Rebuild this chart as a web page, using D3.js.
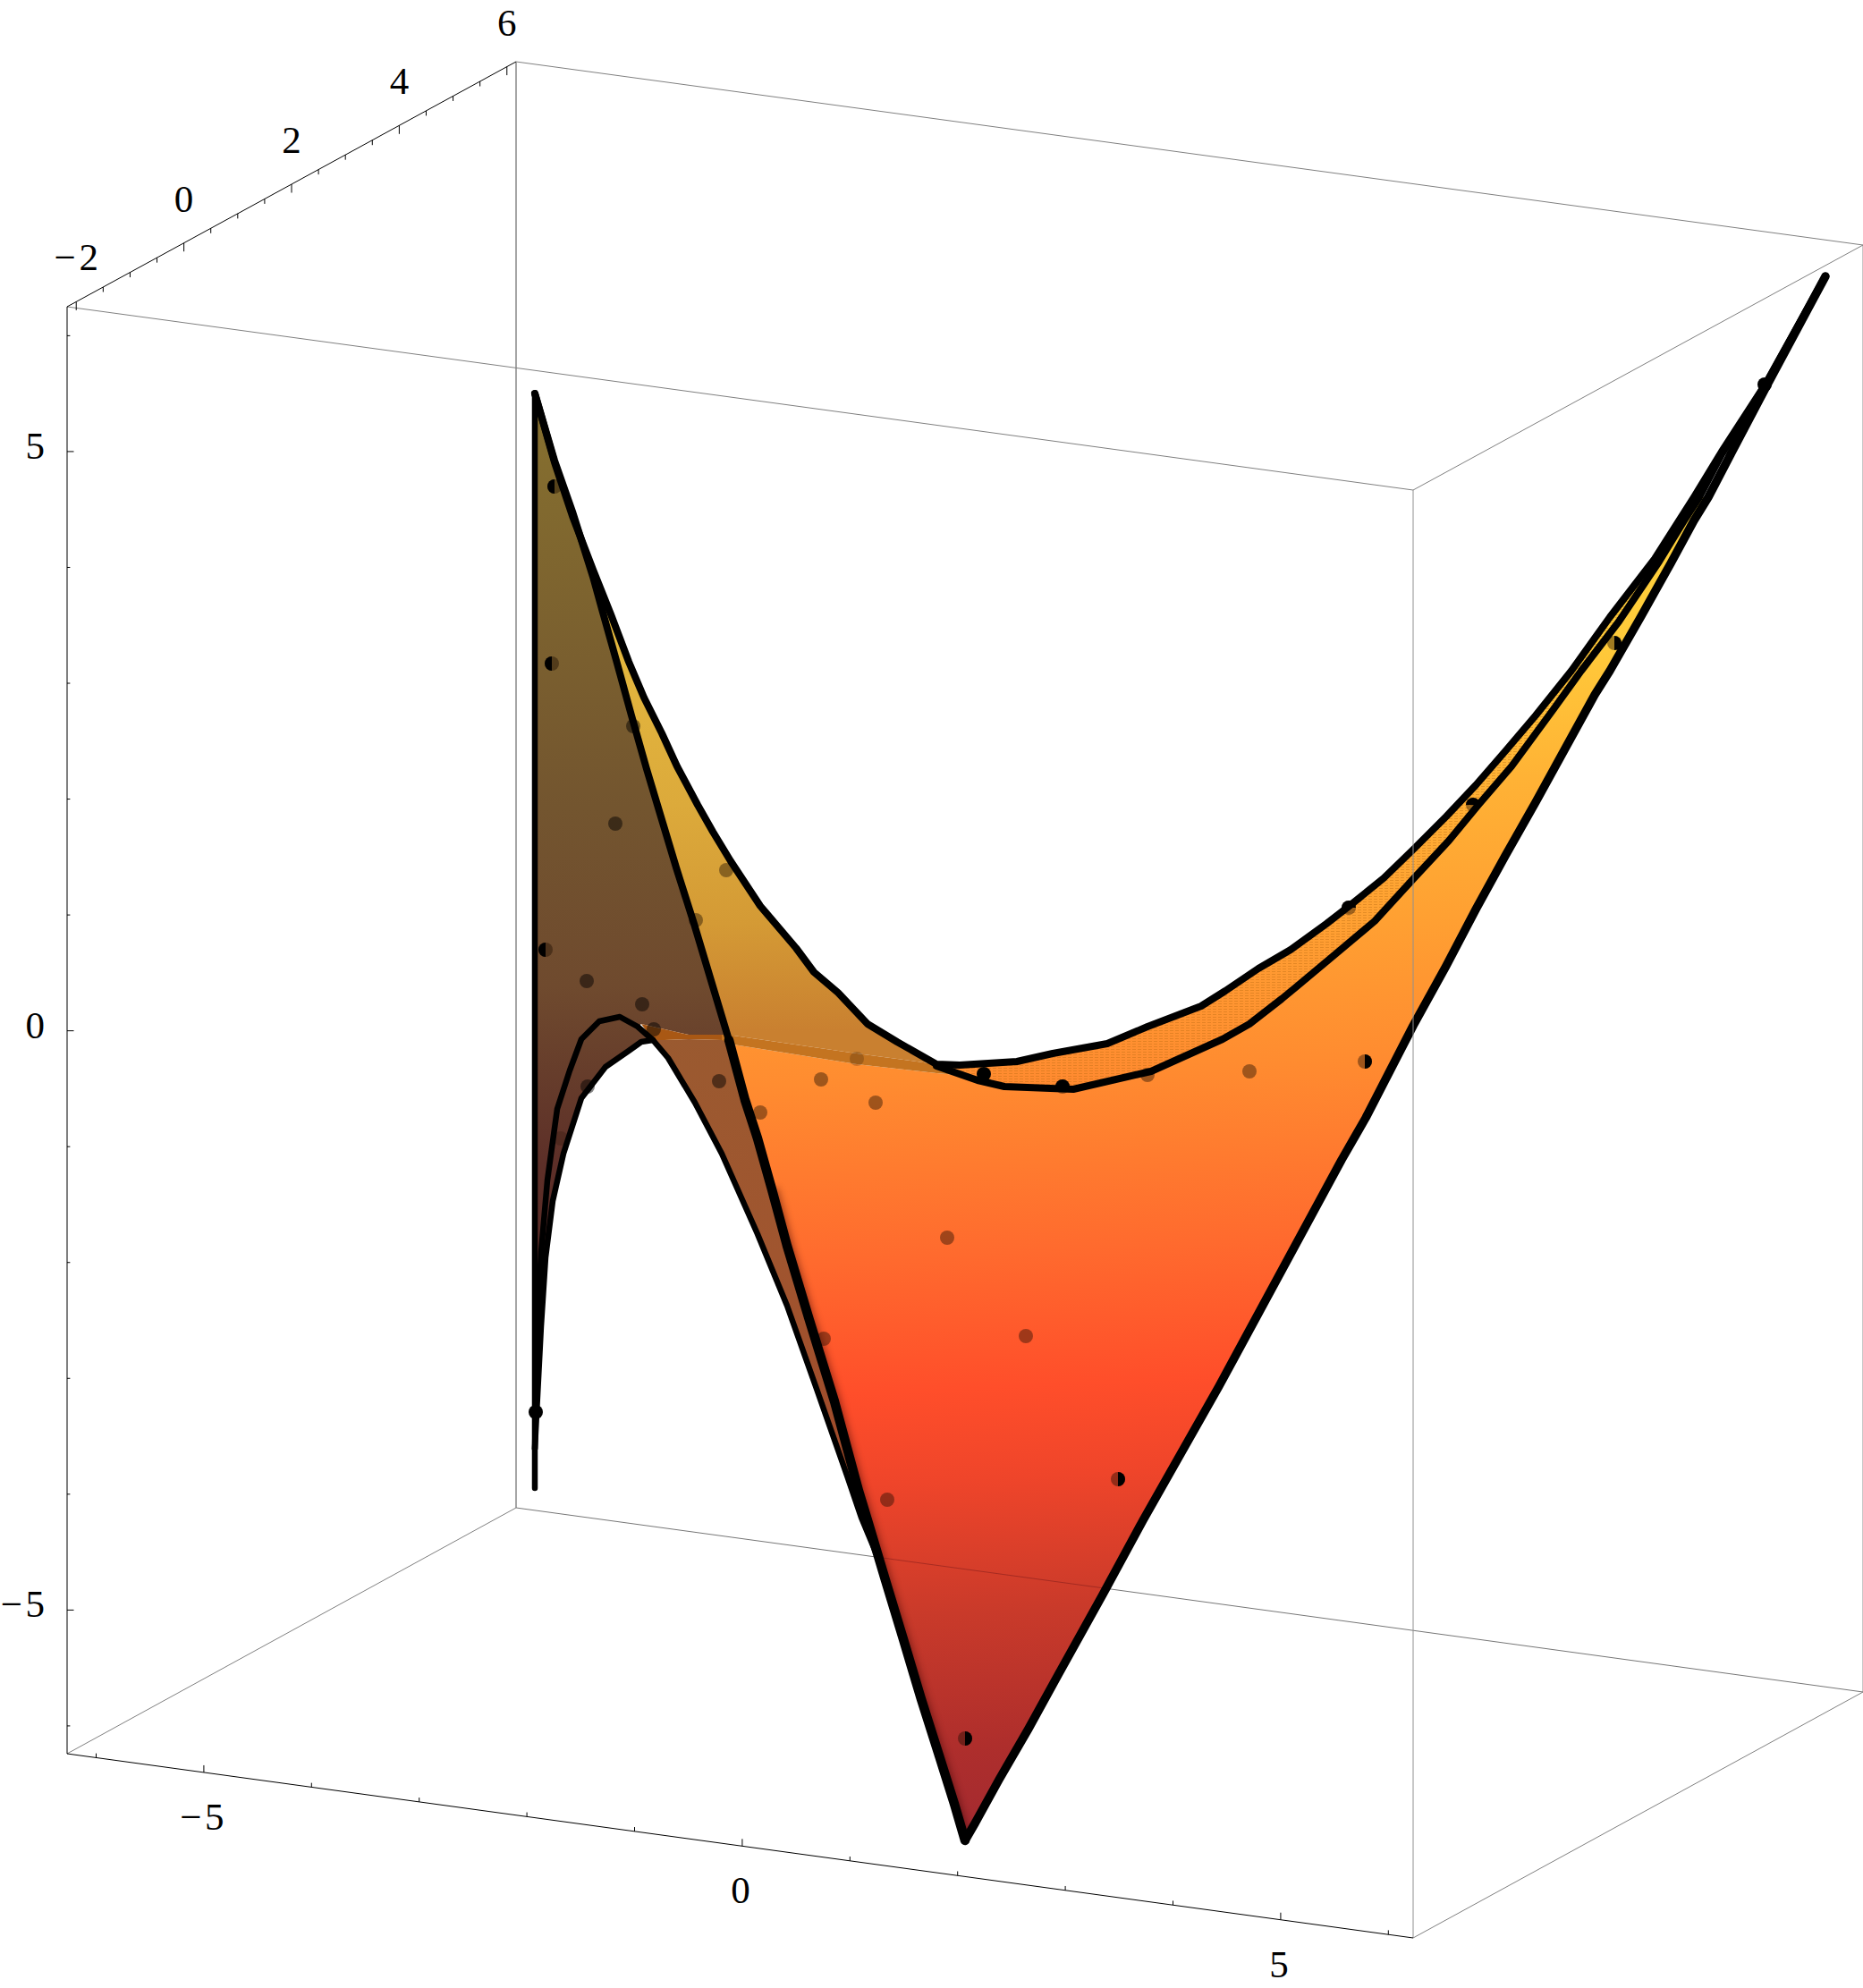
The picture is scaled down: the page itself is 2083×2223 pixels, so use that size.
<!DOCTYPE html>
<html><head><meta charset="utf-8">
<script src="https://d3js.org/d3.v7.min.js"></script>
<style>html,body{margin:0;padding:0;background:#fff}svg{display:block}text{font-family:"Liberation Serif",serif;font-size:43px;fill:#000}</style>
</head><body><svg id="c" width="2083" height="2223"></svg>
<script>
const boxTop=[[-7.55,8.10],[-2.53,10.84],[12.53,8.79],[7.50,6.05]];
const boxBottom=[[-7.55,-8.08],[-2.53,-5.33],[12.53,-7.39],[7.50,-10.14]];

const edgeUpper=[[-2.32,7.13],[-2.10,6.36],[-1.90,5.76],[-1.67,5.16],[-1.47,4.66],[-1.27,4.13],[-1.10,3.73],[-0.90,3.33],[-0.73,2.96],[-0.50,2.53],[-0.33,2.23],[-0.13,1.90],[0.20,1.40],[0.60,0.93],[0.80,0.66],[1.07,0.43],[1.40,0.08],[1.73,-0.12],[2.17,-0.37],[2.43,-0.38],[3.07,-0.34],[3.47,-0.25],[4.08,-0.14],[4.53,0.05],[5.13,0.28],[5.40,0.45],[5.77,0.70],[6.13,0.91],[6.53,1.20],[6.80,1.41],[7.17,1.71],[7.50,2.03],[7.87,2.40],[8.20,2.75],[8.53,3.13],[8.87,3.53],[9.27,4.03],[9.70,4.63],[10.20,5.28],[10.64,5.97],[10.95,6.48],[11.45,7.25],[12.11,8.44]];
const edgeLower=[[2.17,-0.39],[2.63,-0.55],[2.93,-0.62],[3.70,-0.65],[4.57,-0.45],[5.37,-0.09],[5.67,0.08],[6.03,0.36],[6.20,0.50],[6.63,0.86],[7.07,1.23],[7.50,1.70],[7.90,2.13],[8.23,2.53],[8.60,2.96],[9.07,3.60],[9.38,4.03],[9.80,4.58],[10.25,5.25],[10.55,5.74],[10.70,5.97],[10.95,6.45],[11.45,7.25],[12.11,8.44]];
const edgeRight=[[2.49,-9.05],[2.60,-8.86],[2.87,-8.37],[3.20,-7.80],[3.53,-7.20],[4.03,-6.30],[4.48,-5.47],[5.33,-3.97],[6.70,-1.44],[6.97,-0.97],[7.50,0.06],[7.87,0.73],[8.20,1.36],[8.53,1.96],[8.87,2.56],[9.20,3.16],[9.53,3.76],[9.70,4.03],[10.05,4.64],[10.38,5.23],[10.64,5.71],[10.80,5.97],[11.05,6.45],[11.45,7.21],[12.11,8.44]];
const edgeFoldTop=[[-2.32,7.13],[-2.10,6.38],[-1.90,5.81],[-1.67,5.08],[-1.565,4.70],[-1.405,4.13],[-1.24,3.53],[-1.07,2.93],[-0.89,2.33],[-0.74,1.83],[-0.54,1.20],[-0.30,0.40],[-0.15,-0.10]];
const edgeFoldBottom=[[-0.15,-0.10],[0.03,-0.77],[0.17,-1.20],[0.33,-1.77],[0.50,-2.40],[0.74,-3.20],[1.03,-4.14],[1.30,-5.14],[1.40,-5.47],[1.60,-6.14],[1.80,-6.80],[2.00,-7.47],[2.20,-8.10],[2.37,-8.64],[2.49,-9.05]];
const edgeBack=[[-1.00,-0.10],[-0.83,-0.30],[-0.53,-0.80],[-0.23,-1.37],[0.17,-2.27],[0.50,-3.07],[0.83,-4.00],[1.17,-4.97],[1.33,-5.44],[1.53,-5.92]];
const arcUpper=[[-2.32,-4.67],[-2.29,-3.27],[-2.25,-2.47],[-2.18,-1.67],[-2.07,-0.87],[-1.93,-0.44],[-1.80,-0.09],[-1.60,0.11],[-1.37,0.16],[-1.17,0.05],[-1.00,-0.10]];
const arcLower=[[-2.32,-4.67],[-2.25,-3.30],[-2.20,-2.53],[-2.12,-1.90],[-2.00,-1.37],[-1.80,-0.75],[-1.53,-0.40],[-1.27,-0.22],[-1.13,-0.12],[-1.00,-0.10]];
const edgeLeft=[[-2.32,7.13],[-2.32,-5.11]];
const seamTop=[[-1.13,0.08],[-1.00,0.05],[-0.60,-0.04],[-0.23,-0.04],[-0.10,-0.05],[1.28,-0.25],[2.17,-0.37]];
const seamBottom=[[-1.00,-0.10],[-0.87,-0.10],[-0.60,-0.09],[-0.23,-0.10],[-0.10,-0.15],[1.28,-0.37],[2.17,-0.47],[2.40,-0.49]];

const controlPoints=[[-2.10,6.09,"L"],[-2.13,4.11,"L"],[-1.22,3.41,"D"],[-1.42,2.32,"D"],[-0.18,1.80,"N"],[-0.52,1.24,"N"],[-2.20,0.91,"L"],[-1.74,0.56,"D"],[-1.12,0.30,"D"],[-0.99,0.02,"D"],[-0.26,-0.56,"D"],[0.88,-0.54,"N"],[1.49,-0.80,"N"],[0.20,-0.91,"N"],[1.28,-0.31,"F"],[-1.73,-0.62,"D"],[-2.03,-1.20,"F"],[2.29,-2.31,"N"],[3.17,-3.41,"N"],[5.67,-0.45,"N"],[4.53,-0.49,"N"],[3.58,-0.62,"T"],[2.70,-0.48,"K"],[0.91,-3.44,"N"],[1.62,-5.24,"N"],[4.20,-5.01,"R"],[2.49,-7.91,"R"],[6.96,-0.34,"R"],[8.17,2.53,"T"],[6.78,1.38,"T"],[9.75,4.34,"R"],[11.43,7.23,"K"],[-2.31,-4.26,"K"]];

const xTicks=d3.range(-6,7), xLabels=[-5,0,5];
const yTicks=d3.range(-2,6.5,0.5), yLabels=[-2,0,2,4,6];
const zTicks=d3.range(-6,7), zLabels=[-5,0,5];

const frontV=[5.53,4.03,2.53,1.03,-0.47,-2.47,-3.97,-4.97,-6.47,-7.97,-8.97];
const frontC=["#ffd23c","#ffcb3a","#ffb235","#ffa032","#ff8c30","#ff6a2e","#ff4e2a","#ef452a","#c93a2a","#ae2e2c","#a32a30"];
const goldV=[5.5,2.53,1.2,0];
const goldC=["#e8c040","#dcaa3b","#d49a35","#c98030"];
const brownV=[7,2.5,0.5,-1.5,-4.5];
const brownC=["#86702f","#73552f","#6f4a2e","#5d2f28","#5a2a2a"];
const lowerBrownV=[0,-2.5,-5];
const lowerBrownC=["#9a5a30","#a0552f","#a04a2a"];

const X=d3.scaleLinear().domain([-8.30,12.53]).range([0,2083]);
const Y=d3.scaleLinear().domain([11.53,-10.70]).range([0,2223]);
const P=p=>[X(p[0]),Y(p[1])];
const line=d3.line().x(d=>X(d[0])).y(d=>Y(d[1]));
const area=pts=>line(pts)+"Z";
const svg=d3.select("#c");
const defs=svg.append("defs");

function grad(id,vs,cs,tilt){
  const y0=Y(vs[0]),y1=Y(vs[vs.length-1]);
  const g=defs.append("linearGradient").attr("id",id).attr("gradientUnits","userSpaceOnUse")
    .attr("x1",1100).attr("x2",1100+(y1-y0)*tilt).attr("y1",y0).attr("y2",y1);
  const o=d3.scaleLinear().domain([y0,y1]).range([0,1]);
  vs.forEach((v,i)=>g.append("stop").attr("offset",o(Y(v))).attr("stop-color",cs[i]));
}
grad("front",frontV,frontC,.05);grad("gold",goldV,goldC,0);grad("brown",brownV,brownC,0);grad("lowBrown",lowerBrownV,lowerBrownC,0);
defs.append("filter").attr("id","soft").attr("x","-20%").attr("y","-20%").attr("width","140%").attr("height","140%")
  .append("feGaussianBlur").attr("stdDeviation",4);
const pat=defs.append("pattern").attr("id","dither").attr("patternUnits","userSpaceOnUse").attr("width",6).attr("height",3);
pat.append("rect").attr("width",4).attr("height",1).attr("fill","#b86a10").attr("opacity",.38);

// box edges behind the surface
const boxLine=(a,b,col,w)=>svg.append("line").attr("x1",X(a[0])).attr("y1",Y(a[1])).attr("x2",X(b[0])).attr("y2",Y(b[1])).attr("stroke",col).attr("stroke-width",w);
boxLine(boxTop[1],boxTop[2],"#808080",1);
boxLine(boxTop[2],boxBottom[2],"#909090",1);
boxLine(boxTop[1],boxBottom[1],"#808080",1.4);
boxLine(boxBottom[1],boxBottom[2],"#777",1);
boxLine(boxBottom[1],boxBottom[0],"#808080",1);

// surface pieces
const gSurf=svg.append("g");
gSurf.append("path").attr("d",area([...edgeUpper.slice(0,19),...seamTop.slice(4).reverse(),...edgeFoldTop.slice().reverse()])).attr("fill","url(#gold)");
const frontPoly=[...edgeFoldBottom,...edgeRight.slice(1,22),...edgeLower.slice(0,21).reverse(),...seamBottom.slice(4).reverse()];
gSurf.append("path").attr("d",area(frontPoly)).attr("fill","url(#front)");
const bandPoly=[...edgeUpper.slice(18,40),...edgeLower.slice(0,21).reverse()];
gSurf.append("path").attr("d",area(bandPoly)).attr("fill","url(#front)");
gSurf.append("path").attr("d",area(bandPoly)).attr("fill","url(#dither)");
gSurf.append("path").attr("d",area([...edgeFoldTop,...seamTop.slice(0,4).reverse(),...arcUpper.slice(0,10).reverse()])).attr("fill","url(#brown)");
gSurf.append("path").attr("d",area([...edgeBack,...edgeFoldBottom.slice(0,10).reverse(),...seamBottom.slice(0,4).reverse()])).attr("fill","url(#lowBrown)");
gSurf.append("path").attr("d",area([...arcUpper,...arcLower.slice().reverse()])).attr("fill","url(#brown)");

// soft shade along the fold on the front sheet
defs.append("clipPath").attr("id","frontClip").append("path").attr("d",area(frontPoly));
svg.append("g").attr("clip-path","url(#frontClip)").append("path").attr("d",line(edgeFoldBottom.slice(3))).attr("fill","none").attr("stroke","#300").attr("stroke-width",13).attr("opacity",.5).attr("filter","url(#soft)");

// seam band
const bandCol=["#a95814","#c47420"];
svg.append("path").attr("d",area([...seamTop.slice(0,4),...seamBottom.slice(0,4).reverse()])).attr("fill",bandCol[0]);
svg.append("path").attr("d",area([...seamTop.slice(3),...seamBottom.slice(3).reverse()])).attr("fill",bandCol[1]);

// back edge seen through the sheet
const backClip=svg.append("g").attr("clip-path","url(#frontClip)");
backClip.append("line").attr("x1",X(boxBottom[1][0])).attr("y1",Y(boxBottom[1][1])).attr("x2",X(boxBottom[2][0])).attr("y2",Y(boxBottom[2][1])).attr("stroke","#7a1a1a").attr("stroke-width",1).attr("opacity",.5);

// control points
const dotR=8;
const alpha={N:.42,L:.42,R:.42,T:.42,D:.48,F:.22,K:1};
const half=d3.arc().innerRadius(0).outerRadius(dotR);
const halfAngles={L:[Math.PI,2*Math.PI],R:[0,Math.PI],T:[-Math.PI/2,Math.PI/2]};
const gDots=svg.append("g");
gDots.selectAll("circle").data(controlPoints).join("circle")
  .attr("cx",d=>X(d[0])).attr("cy",d=>Y(d[1])).attr("r",dotR)
  .attr("fill",d=>d[2]==="K"?"#000":d[2]==="D"?"#000":"#1a0c00").attr("opacity",d=>alpha[d[2]]);
gDots.selectAll("path").data(controlPoints.filter(d=>halfAngles[d[2]])).join("path")
  .attr("transform",d=>`translate(${X(d[0])},${Y(d[1])})`)
  .attr("d",d=>half({startAngle:halfAngles[d[2]][0],endAngle:halfAngles[d[2]][1]})).attr("fill","#000");

// outline curves, thicker where the surface comes nearer the eye
const curves=[[edgeBack,6.5],[arcLower,6.5],[arcUpper,6.5],[edgeLeft,6.5],[edgeFoldTop,8],[edgeFoldBottom,10.5],[edgeLower,8],[edgeUpper,8],[edgeRight,9.5]];
svg.append("g").selectAll("path").data(curves).join("path").attr("d",d=>line(d[0])).attr("fill","none")
  .attr("stroke","#000").attr("stroke-width",d=>d[1]).attr("stroke-linejoin","round").attr("stroke-linecap","round");

// box edges in front
boxLine(boxTop[0],boxTop[3],"#808080",1);
boxLine(boxTop[3],boxTop[2],"#808080",1);
boxLine(boxTop[3],boxBottom[3],"#909090",1);
boxLine(boxBottom[3],boxBottom[2],"#808080",1);
boxLine(boxTop[0],boxTop[1],"#000",1);
boxLine(boxTop[0],boxBottom[0],"#000",1);
boxLine(boxBottom[0],boxBottom[3],"#000",1);

// axes
const xA=d3.scaleLinear().domain([-6.27,6.23]).range([P(boxBottom[0]),P(boxBottom[3])]);
const yA=d3.scaleLinear().domain([-2.17,6.17]).range([P(boxTop[0]),P(boxTop[1])]);
const zA=d3.scaleLinear().domain([-6.24,6.25]).range([P(boxBottom[0]),P(boxTop[0])]);
function ticks(scale,vals,majors,dx,dy,minorK){
  svg.append("g").selectAll("line").data(vals).join("line")
   .attr("x1",d=>scale(d)[0]).attr("y1",d=>scale(d)[1])
   .attr("x2",d=>scale(d)[0]+dx*(majors.includes(d)?1:minorK)).attr("y2",d=>scale(d)[1]+dy*(majors.includes(d)?1:minorK))
   .attr("stroke","#000").attr("stroke-width",1);
}
ticks(xA,xTicks,xLabels,0,-8,.6);
ticks(yA,yTicks,yLabels,0,9.5,.58);
ticks(zA,zTicks,zLabels,7.5,0,.45);
const fmt=d=>String(d).replace("-","\u2212\u200a");
function labels(scale,vals,dx,dy,anchor){
  svg.append("g").selectAll("text").data(vals).join("text")
   .attr("x",d=>scale(d)[0]+dx).attr("y",d=>scale(d)[1]+dy).attr("text-anchor",anchor).text(fmt);
}
labels(xA,xLabels,-2,64,"middle");
labels(yA,yLabels,0,-35,"middle");
labels(zA,zLabels,-25,8,"end");
</script></body></html>
